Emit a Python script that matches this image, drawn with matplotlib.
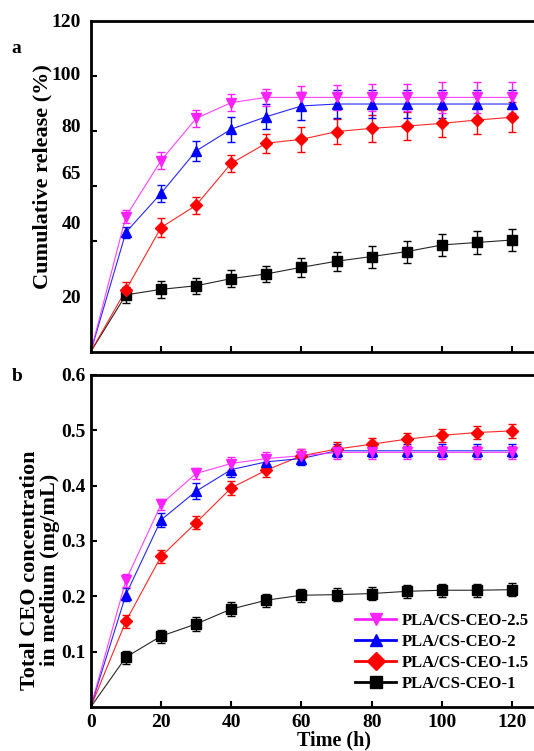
import numpy as np
import matplotlib
matplotlib.use('Agg')
import matplotlib.pyplot as plt
from matplotlib.lines import Line2D

plt.rcParams['font.family'] = 'Liberation Serif'
plt.rcParams['font.weight'] = 'bold'

time_h = [0, 10, 20, 30, 40, 50, 60, 70, 80, 90, 100, 110, 120]
series_names = ['PLA/CS-CEO-2.5', 'PLA/CS-CEO-2', 'PLA/CS-CEO-1.5', 'PLA/CS-CEO-1']
series_colors = ['#ff22ff', '#0000ff', '#ff0000', '#000000']
series_markers = ['v', '^', 'D', 's']

# panel a: cumulative release (%)
release = {
    'PLA/CS-CEO-2.5': [0, 49.0, 69.3, 84.6, 90.3, 92.2, 92.2, 92.2, 92.2, 92.2, 92.2, 92.2, 92.2],
    'PLA/CS-CEO-2': [0, 43.3, 57.4, 72.8, 80.7, 85.2, 89.1, 89.8, 89.8, 89.8, 89.8, 89.8, 89.8],
    'PLA/CS-CEO-1.5': [0, 22.4, 45.0, 53.1, 68.3, 75.6, 77.0, 79.8, 81.0, 81.8, 82.8, 84.0, 85.0],
    'PLA/CS-CEO-1': [0, 20.6, 22.6, 23.9, 26.5, 28.2, 30.6, 32.8, 34.5, 36.3, 38.7, 39.6, 40.5],
}
release_err = {
    'PLA/CS-CEO-2.5': [0, 2.5, 3, 3, 3, 3, 4, 4.5, 5, 5, 5.5, 5.5, 5.5],
    'PLA/CS-CEO-2': [0, 2, 3, 3.5, 4.5, 4.5, 5, 5, 5, 5, 5, 5, 5],
    'PLA/CS-CEO-1.5': [0, 3, 3.5, 3, 3, 3.5, 4.5, 4.5, 5, 5, 5, 5, 5.5],
    'PLA/CS-CEO-1': [0, 3, 3, 3, 3, 3, 3.5, 3.5, 4, 4, 4, 4, 4],
}

# panel b: total CEO concentration in medium (mg/mL)
conc = {
    'PLA/CS-CEO-2.5': [0, 0.229, 0.366, 0.422, 0.440, 0.449, 0.454, 0.460, 0.460, 0.460, 0.460, 0.460, 0.460],
    'PLA/CS-CEO-2': [0, 0.203, 0.338, 0.390, 0.429, 0.443, 0.449, 0.463, 0.463, 0.463, 0.463, 0.463, 0.463],
    'PLA/CS-CEO-1.5': [0, 0.155, 0.272, 0.333, 0.396, 0.428, 0.454, 0.466, 0.475, 0.484, 0.491, 0.496, 0.499],
    'PLA/CS-CEO-1': [0, 0.090, 0.128, 0.150, 0.177, 0.193, 0.202, 0.203, 0.205, 0.209, 0.211, 0.211, 0.212],
}
conc_err = {
    'PLA/CS-CEO-2.5': [0, 0.012, 0.010, 0.010, 0.012, 0.012, 0.012, 0.012, 0.012, 0.012, 0.012, 0.012, 0.012],
    'PLA/CS-CEO-2': [0, 0.012, 0.012, 0.014, 0.014, 0.012, 0.012, 0.012, 0.012, 0.012, 0.012, 0.012, 0.012],
    'PLA/CS-CEO-1.5': [0, 0.012, 0.012, 0.012, 0.013, 0.012, 0.012, 0.012, 0.012, 0.012, 0.012, 0.012, 0.012],
    'PLA/CS-CEO-1': [0, 0.012, 0.012, 0.012, 0.012, 0.012, 0.012, 0.012, 0.012, 0.012, 0.012, 0.012, 0.012],
}

a_tick_pos = [20, 40, 60, 80, 100]
a_label_pos = [20, 47, 65, 82, 101, 120]
a_label_txt = ['20', '40', '65', '80', '100', '120']

marker_size = {'v': 7.5, '^': 7.5, 'D': 6.5, 's': 6.5}

fig = plt.figure(figsize=(5.34, 7.51), dpi=100)
ax1 = fig.add_axes([0.170, 0.5317, 0.845, 0.4407])
ax2 = fig.add_axes([0.170, 0.0586, 0.845, 0.4421])


def draw(ax, data, err):
    # black first so pink ends up on top
    for name, c, m in reversed(list(zip(series_names, series_colors, series_markers))):
        ax.plot(time_h, data[name], color=c, lw=0.8, alpha=0.85)
        ax.errorbar(time_h[1:], data[name][1:], yerr=err[name][1:], fmt=m, color=c,
                    ms=marker_size[m], capsize=3, elinewidth=1, capthick=1)


draw(ax1, release, release_err)
draw(ax2, conc, conc_err)

for ax in (ax1, ax2):
    ax.set_xlim(0, 128.5)
    ax.set_xticks([0, 20, 40, 60, 80, 100, 120])
    ax.tick_params(direction='in', length=4, width=1.5, labelsize=14)
    for s in ax.spines.values():
        s.set_linewidth(2)

ax1.set_ylim(0, 120)
ax1.set_xticklabels([])
ax1.set_yticks(a_tick_pos, minor=True)
ax1.set_yticks(a_label_pos)
ax1.set_yticklabels(a_label_txt)
ax1.tick_params(axis='y', which='major', length=0, pad=7)
ax1.tick_params(axis='y', which='minor', direction='in', length=4, width=1.5)
ax1.set_ylabel('Cumulative release (%)', fontsize=16, fontweight='bold')
ax1.yaxis.set_label_coords(-0.085, 0.53)

ax2.set_ylim(0, 0.6)
ax2.set_yticks([0.1, 0.2, 0.3, 0.4, 0.5, 0.6])
ax2.set_yticklabels(['0.1', '0.2', '0.3', '0.4', '0.5', '0.6'])
ax2.tick_params(axis='x', pad=5)
ax2.set_ylabel('Total CEO concentration\nin medium (mg/mL)', fontsize=16,
               fontweight='bold', linespacing=0.95)
ax2.yaxis.set_label_coords(-0.069, 0.413)
ax2.set_xlabel('Time (h)', fontsize=14.5, fontweight='bold')
ax2.xaxis.set_label_coords(0.54, -0.072)

handles = [Line2D([], [], color=c, marker=m, ms=9 if m != 's' else 8, lw=2)
           for c, m in zip(series_colors, series_markers)]
ax2.legend(handles, series_names, loc='lower right', frameon=False, fontsize=12,
           handlelength=2.5, handletextpad=0.3, labelspacing=0.3, borderaxespad=0.0,
           bbox_to_anchor=(0.985, 0.025))

fig.text(0.022, 0.93, 'a', fontsize=14, fontweight='bold')
fig.text(0.022, 0.493, 'b', fontsize=14, fontweight='bold')

fig.savefig('out.png', dpi=100)
